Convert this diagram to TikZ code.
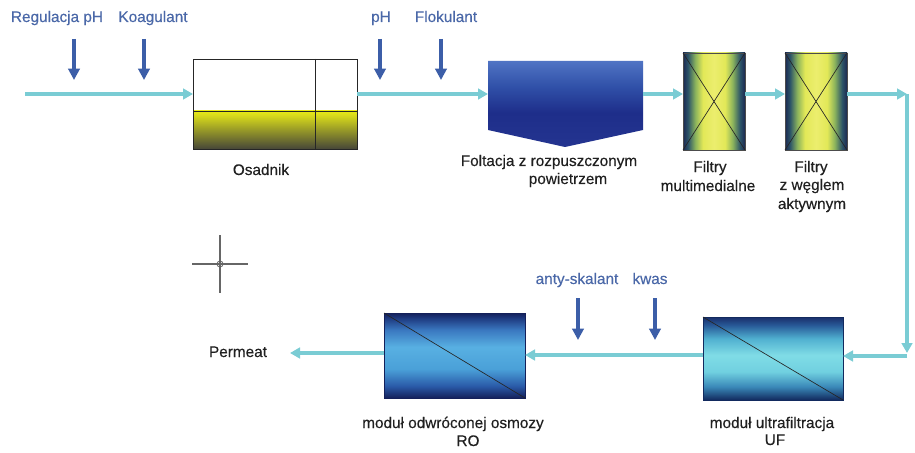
\documentclass[tikz,border=0pt]{standalone}
\usepackage{fontspec}
\setmainfont{Liberation Sans}
\newfontfamily\labfont{Liberation Sans}[FakeBold=0.25]
\usetikzlibrary{arrows.meta,fit,calc}
\definecolor{flowc}{RGB}{122,204,212}
\definecolor{addc}{RGB}{60,94,168}
\definecolor{addt}{RGB}{74,104,168}
\definecolor{labc}{RGB}{32,32,32}
% RO colours
\definecolor{roA}{RGB}{20,32,90}
\definecolor{roB}{RGB}{42,90,168}
\definecolor{roC}{RGB}{74,160,216}
\definecolor{roD}{RGB}{88,176,226}
\definecolor{roE}{RGB}{58,120,192}
\definecolor{roF}{RGB}{30,58,128}
% UF colours
\definecolor{ufA}{RGB}{18,42,94}
\definecolor{ufB}{RGB}{58,136,184}
\definecolor{ufC}{RGB}{112,208,224}
\definecolor{ufD}{RGB}{128,220,230}
\definecolor{ufE}{RGB}{80,176,208}
\definecolor{ufF}{RGB}{40,90,152}
\definecolor{ufG}{RGB}{26,46,106}
% settler
\definecolor{osA}{RGB}{232,234,24}
\definecolor{osB}{RGB}{212,214,28}
\definecolor{osC}{RGB}{150,152,40}
\definecolor{osD}{RGB}{70,70,56}
% flotation
\definecolor{flA}{RGB}{80,116,196}
\definecolor{flB}{RGB}{48,80,168}
\definecolor{flC}{RGB}{30,46,138}
\definecolor{flD}{RGB}{36,52,144}
% filters
\definecolor{fiA}{RGB}{28,40,82}
\definecolor{fiB}{RGB}{44,84,104}
\definecolor{fiC}{RGB}{140,180,92}
\definecolor{fiD}{RGB}{226,232,88}
\definecolor{fiE}{RGB}{236,238,110}
\pgfdeclareverticalshading{rosh}{100bp}{color(0bp)=(roA); color(25bp)=(roA); color(32bp)=(roB); color(42bp)=(roC); color(55bp)=(roD); color(65bp)=(roE); color(72bp)=(roF); color(75bp)=(roA); color(100bp)=(roA)}
\pgfdeclareverticalshading{ufsh}{100bp}{color(0bp)=(ufA); color(25bp)=(ufA); color(33bp)=(ufB); color(42bp)=(ufC); color(52bp)=(ufD); color(62bp)=(ufE); color(70bp)=(ufF); color(75bp)=(ufG); color(100bp)=(ufG)}
\pgfdeclareverticalshading{ossh}{100bp}{color(0bp)=(osD); color(25bp)=(osD); color(50bp)=(osC); color(68bp)=(osB); color(75bp)=(osA); color(100bp)=(osA)}
\pgfdeclareverticalshading{flsh}{100bp}{color(0bp)=(flD); color(25bp)=(flD); color(45bp)=(flC); color(60bp)=(flB); color(75bp)=(flA); color(100bp)=(flA)}
\pgfdeclarehorizontalshading{fish}{100bp}{color(0bp)=(fiA); color(25bp)=(fiA); color(29bp)=(fiB); color(35bp)=(fiC); color(41bp)=(fiD); color(50bp)=(fiE); color(59bp)=(fiD); color(65bp)=(fiC); color(71bp)=(fiB); color(75bp)=(fiA); color(100bp)=(fiA)}
\begin{document}
\begin{tikzpicture}[x=0.75pt,y=-0.75pt,
  flowline/.style={draw=flowc,line width=2.3pt,-{Triangle[length=7.5pt,width=8pt]}},
  addarrow/.style={draw=addc,line width=2.6pt,-{Triangle[length=8.5pt,width=8.5pt]}},
  addlabel/.style={text=addt,font=\labfont\fontsize{11.5}{14}\selectfont,anchor=base,inner sep=0},
  lab/.style={text=labc,font=\labfont\fontsize{11.5}{14}\selectfont,anchor=base,inner sep=0},
  unitbox/.style={inner sep=0,outer sep=0},
  thinline/.style={draw=black!85,line width=0.6pt}
]
\useasboundingbox (0,0) rectangle (915,453);
\fill[white] (0,0) rectangle (915,453);

% Osadnik (settler)
\fill[white] (193,59) rectangle (357,111);
\shade[shading=ossh] (193,111) rectangle (357,149);
\node[unitbox,fit={(193,59)(357,149)},thinline] (osad) {};
\draw[thinline] (osad.west |- 0,111) -- (osad.east |- 0,111);
\draw[thinline] (osad.north -| 315,0) -- (osad.south -| 315,0);

% Flotation
\shade[shading=flsh] (488,61) -- (643,61) -- (643,130) -- (565,147) -- (488,130) -- cycle;
\node[unitbox,fit={(488,61)(643,147)}] (flot) {};

% Filters
\node[unitbox,fit={(683,53)(745,150)},shade,shading=fish,draw=black!70,line width=0.5pt] (f1) {};
\draw[black!85,line width=0.5pt] (f1.north west) -- (f1.south east) (f1.north east) -- (f1.south west);
\node[unitbox,fit={(785,53)(847,150)},shade,shading=fish,draw=black!70,line width=0.5pt] (f2) {};
\draw[black!85,line width=0.5pt] (f2.north west) -- (f2.south east) (f2.north east) -- (f2.south west);

% RO and UF modules
\node[unitbox,fit={(384,313)(525,398)},shade,shading=rosh,draw=roA,line width=0.5pt] (ro) {};
\draw[black!85,line width=0.5pt] (ro.north west) -- (ro.south east);
\node[unitbox,fit={(703,317)(843,400)},shade,shading=ufsh,draw=ufA,line width=0.5pt] (uf) {};
\draw[black!85,line width=0.5pt] (uf.north west) -- (uf.south east);

% flow
\coordinate (src) at (25,94);
\coordinate (c1) at (907,94);
\coordinate (c2) at (907,353);
\coordinate (c3) at (907,356);
\coordinate (bot) at (0,355);
\coordinate (perm) at (290,353);
\draw[flowline] (src) -- (src -| osad.west);
\draw[flowline] (osad.east |- src) -- (flot.west |- src);
\draw[flowline] (flot.east |- src) -- (f1.west |- src);
\draw[flowline] (f1.east |- src) -- (f2.west |- src);
\draw[flowline] (f2.east |- src) -- (c1);
\draw[flowline] (c1) -- (c2);
\draw[flowline] (c3) -- (uf.east |- c3);
\draw[flowline] (uf.west |- bot) -- (ro.east |- bot);
\draw[flowline] (ro.west |- perm) -- (perm);

% additive arrows
\coordinate (d1) at (74,39);  \coordinate (e1) at (74,80);
\coordinate (d2) at (144,39); \coordinate (e2) at (144,80);
\coordinate (d3) at (380,39); \coordinate (e3) at (380,80);
\coordinate (d4) at (441,39); \coordinate (e4) at (441,80);
\coordinate (d5) at (578,298); \coordinate (e5) at (578,340);
\coordinate (d6) at (655,298); \coordinate (e6) at (655,340);
\draw[addarrow] (d1) -- (e1);
\draw[addarrow] (d2) -- (e2);
\draw[addarrow] (d3) -- (e3);
\draw[addarrow] (d4) -- (e4);
\draw[addarrow] (d5) -- (e5);
\draw[addarrow] (d6) -- (e6);

% additive labels
\node[addlabel] (t1) at (57,22) {Regulacja pH};
\node[addlabel] (t2) at (153,22) {Koagulant};
\node[addlabel] (t3) at (381,22) {pH};
\node[addlabel] (t4) at (446,22) {Flokulant};
\node[addlabel] (t5) at (577,284) {anty-skalant};
\node[addlabel] (t6) at (650,284) {kwas};

% unit labels
\node[lab] (l1) at (261,175) {Osadnik};
\node[lab] (l2a) at (549,166) {Foltacja z rozpuszczonym};
\node[lab] (l2b) at (568,184) {powietrzem};
\node[lab] (l3a) at (710,172) {Filtry};
\node[lab] (l3b) at (708,191) {multimedialne};
\node[lab] (l4a) at (811,172) {Filtry};
\node[lab] (l4b) at (812,190) {z węglem};
\node[lab] (l4c) at (812,209) {aktywnym};
\node[lab] (l5) at (238,357) {Permeat};
\node[lab] (l6a) at (453,428) {moduł odwróconej osmozy};
\node[lab] (l6b) at (468,446) {RO};
\node[lab] (l7a) at (772,428) {moduł ultrafiltracja};
\node[lab] (l7b) at (775,445) {UF};

% crosshair mark
\draw[gray!80!black,line width=0.8pt] (220,235) -- (220,293) (192,264) -- (248,264);
\draw[gray!80!black,line width=0.6pt] (220,264) circle[radius=3];
\end{tikzpicture}
\end{document}
